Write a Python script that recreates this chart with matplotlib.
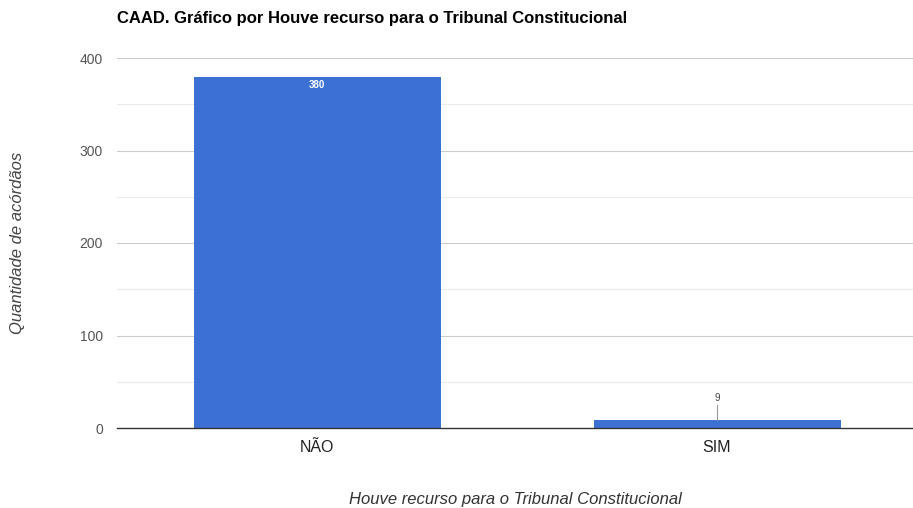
import matplotlib
matplotlib.use("Agg")
import matplotlib.pyplot as plt

categories = ["NÃO", "SIM"]
values = [380, 9]
yticks = [0, 100, 200, 300, 400]
minor_ticks = [50, 150, 250, 350]

plt.rcParams['font.family'] = ['Liberation Sans', 'DejaVu Sans']

fig = plt.figure(figsize=(9.13, 5.08), dpi=100)
ax = fig.add_axes([117/913, 80/508, 796/913, 370/508])

x = list(range(len(categories)))
bar_color = '#3c71d3'
ax.bar(x, values, width=0.6175, color=bar_color, zorder=3)

ax.set_xlim(-0.5, 1.49)
ax.set_ylim(0, 400)
ax.set_yticks(yticks)
ax.set_yticklabels([str(v) for v in yticks], color='#555555', fontsize=10)
for m in minor_ticks:
    ax.axhline(m, color='#ebebeb', lw=0.8, zorder=1)
for t in yticks[1:]:
    ax.axhline(t, color='#cccccc', lw=0.8, zorder=1)
ax.axhline(0, color='#333333', lw=1.0, zorder=4, clip_on=False)

ax.set_xticks(x)
ax.set_xticklabels(categories, fontsize=11.5, color='#222222')
ax.tick_params(axis='x', length=0, pad=9)
ax.tick_params(axis='y', length=0, pad=10)
for s in ax.spines.values():
    s.set_visible(False)

# value labels
ax.text(x[0], values[0] - 4, str(values[0]), ha='center', va='top', color='white',
        fontsize=7, fontweight='bold', zorder=5)
ax.plot([x[1], x[1]], [values[1], values[1] + 16], color='#999999', lw=0.8, zorder=5)
ax.text(x[1], values[1] + 18, str(values[1]), ha='center', va='bottom', color='#444444',
        fontsize=7, zorder=5)

ax.set_xlabel("Houve recurso para o Tribunal Constitucional", fontstyle='italic',
              fontsize=12, color='#333333', labelpad=26)
ax.yaxis.set_label_coords(-(117 - 18) / 796, 0.5)
ax.set_ylabel("Quantidade de acórdãos", fontstyle='italic', fontsize=12,
              color='#444444', va='center')

fig.text(117/913, 1 - 18/508, "CAAD. Gráfico por Houve recurso para o Tribunal Constitucional",
         fontsize=12, fontweight='bold', ha='left', va='center', color='#000000')

fig.savefig("out.png", dpi=100, facecolor='white')
